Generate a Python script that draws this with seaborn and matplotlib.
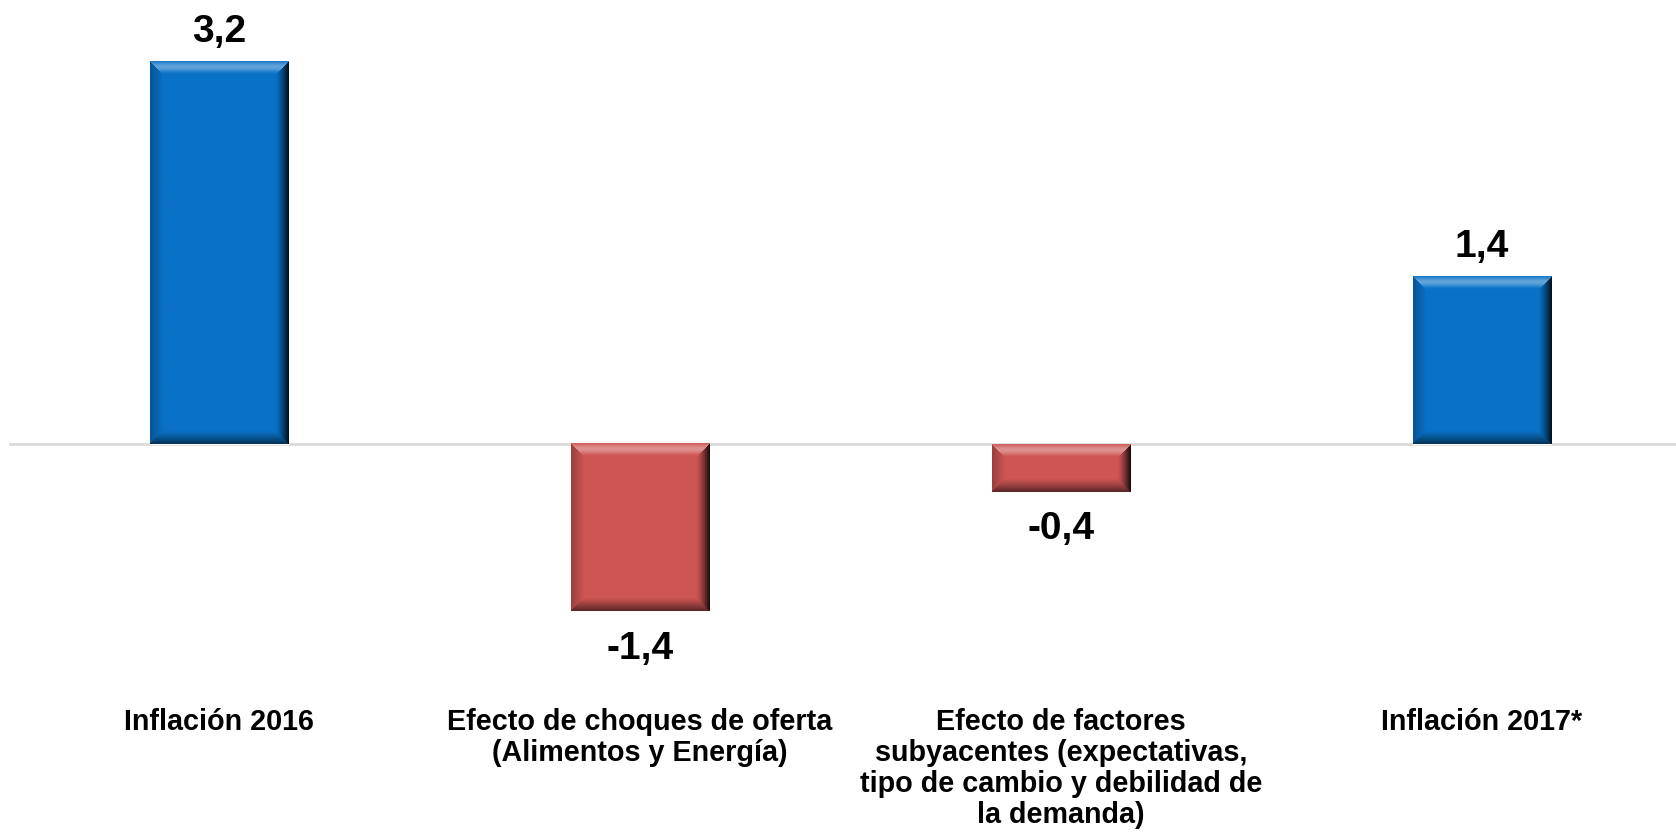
import numpy as np
import pandas as pd
import matplotlib
matplotlib.use("Agg")
import matplotlib.pyplot as plt
import matplotlib.colors as mcolors
import seaborn as sns

# Descomposición de la variación de la inflación 2016 -> 2017
categorias = [
    "Inflación 2016",
    "Efecto de choques de oferta\n(Alimentos y Energía)",
    "Efecto de factores\nsubyacentes (expectativas,\ntipo de cambio y debilidad de\nla demanda)",
    "Inflación 2017*",
]
valores = [3.2, -1.4, -0.4, 1.4]
colores = ["#0A72C6", "#CD5654", "#CD5654", "#0A72C6"]

sns.set_theme(style="white")
plt.rcParams["font.family"] = ["Liberation Sans", "DejaVu Sans"]

W, H, DPI = 1676, 835, 100
fig = plt.figure(figsize=(W / DPI, H / DPI), dpi=DPI)

# axes geometry in pixels
px_left, px_width = 8.5, 1684.0
px_top, px_bottom = 0.0, 700.0
ax = fig.add_axes([px_left / W, (H - px_bottom) / H, px_width / W, (px_bottom - px_top) / H])

df = pd.DataFrame({"categoria": categorias, "valor": valores})
sns.barplot(data=df, x="categoria", y="valor", hue="categoria", palette=colores,
            width=0.33, saturation=1, legend=False, ax=ax, zorder=2)

unit_px = 119.4
zero_px = 444.0
ax.set_xlim(-0.5, 3.5)
ax.set_ylim(-(px_bottom - zero_px) / unit_px, (zero_px - px_top) / unit_px)

for s in ax.spines.values():
    s.set_visible(False)
ax.set_xlabel("")
ax.set_ylabel("")
ax.set_yticks([])
ax.tick_params(axis="x", length=0, pad=6)
ax.set_xticks(range(len(categorias)))
ax.set_xticklabels(categorias, fontsize=20.7, fontweight="bold", color="black",
                   linespacing=1.13, ha="center", multialignment="center")

ax.axhline(0, color="#D9D9D9", lw=2.0, zorder=1)


def bevel_image(w, h, base, b=13):
    """RGBA array giving a bevelled look to a bar of w x h pixels."""
    base = np.array(mcolors.to_rgb(base))
    ii, jj = np.mgrid[0:h, 0:w]
    dt = ii.astype(float)
    db = (h - 1 - ii).astype(float)
    dl = jj.astype(float)
    dr = (w - 1 - jj).astype(float)
    dist = np.stack([dt, dr, db, dl])
    side = np.argmin(dist, axis=0)
    d = np.min(dist, axis=0)
    t = np.clip(d / b, 0, 1)
    inside = d < b
    img = np.tile(base, (h, w, 1))
    white = np.ones(3)
    black = np.zeros(3)

    def blend(mask, target, amt):
        a = (amt * mask)[..., None]
        return img * (1 - a) + target * a

    top = inside & (side == 0)
    img = blend(top, white, 0.35 * np.sin(np.pi * (0.15 + 0.85 * t)) ** 2)
    right = inside & (side == 1)
    img = blend(right, black, 0.85 * (1 - t) ** 1.3)
    bottom = inside & (side == 2)
    img = blend(bottom, black, 0.55 * (1 - t) ** 1.2)
    left = inside & (side == 3)
    img = blend(left, black, 0.25 * (1 - t))
    return np.dstack([np.clip(img, 0, 1), np.ones((h, w))])


fig.canvas.draw()
to_px = ax.transData
for patch, color in zip(ax.patches, colores):
    x0, y0 = patch.get_x(), patch.get_y()
    pw, ph = patch.get_width(), patch.get_height()
    ya, yb = sorted([y0, y0 + ph])
    (X0, Y0), (X1, Y1) = to_px.transform([(x0, ya), (x0 + pw, yb)])
    wpx, hpx = max(int(round(X1 - X0)), 2), max(int(round(Y1 - Y0)), 2)
    img = bevel_image(wpx, hpx, color)
    ax.imshow(img, extent=(x0, x0 + pw, ya, yb), aspect="auto", zorder=3,
              interpolation="bilinear", origin="upper")

ax.set_xlim(-0.5, 3.5)
ax.set_ylim(-(px_bottom - zero_px) / unit_px, (zero_px - px_top) / unit_px)

for i, v in enumerate(valores):
    txt = f"{v:.1f}".replace(".", ",")
    if v >= 0:
        ax.annotate(txt, (i, v), xytext=(0, 14.5), textcoords="offset points",
                    ha="center", va="baseline", fontsize=28, fontweight="bold",
                    color="black", zorder=4)
    else:
        ax.annotate(txt, (i, v), xytext=(0, -14), textcoords="offset points",
                    ha="center", va="top", fontsize=28, fontweight="bold",
                    color="black", zorder=4)

fig.savefig("out.png", dpi=DPI, facecolor="white")
